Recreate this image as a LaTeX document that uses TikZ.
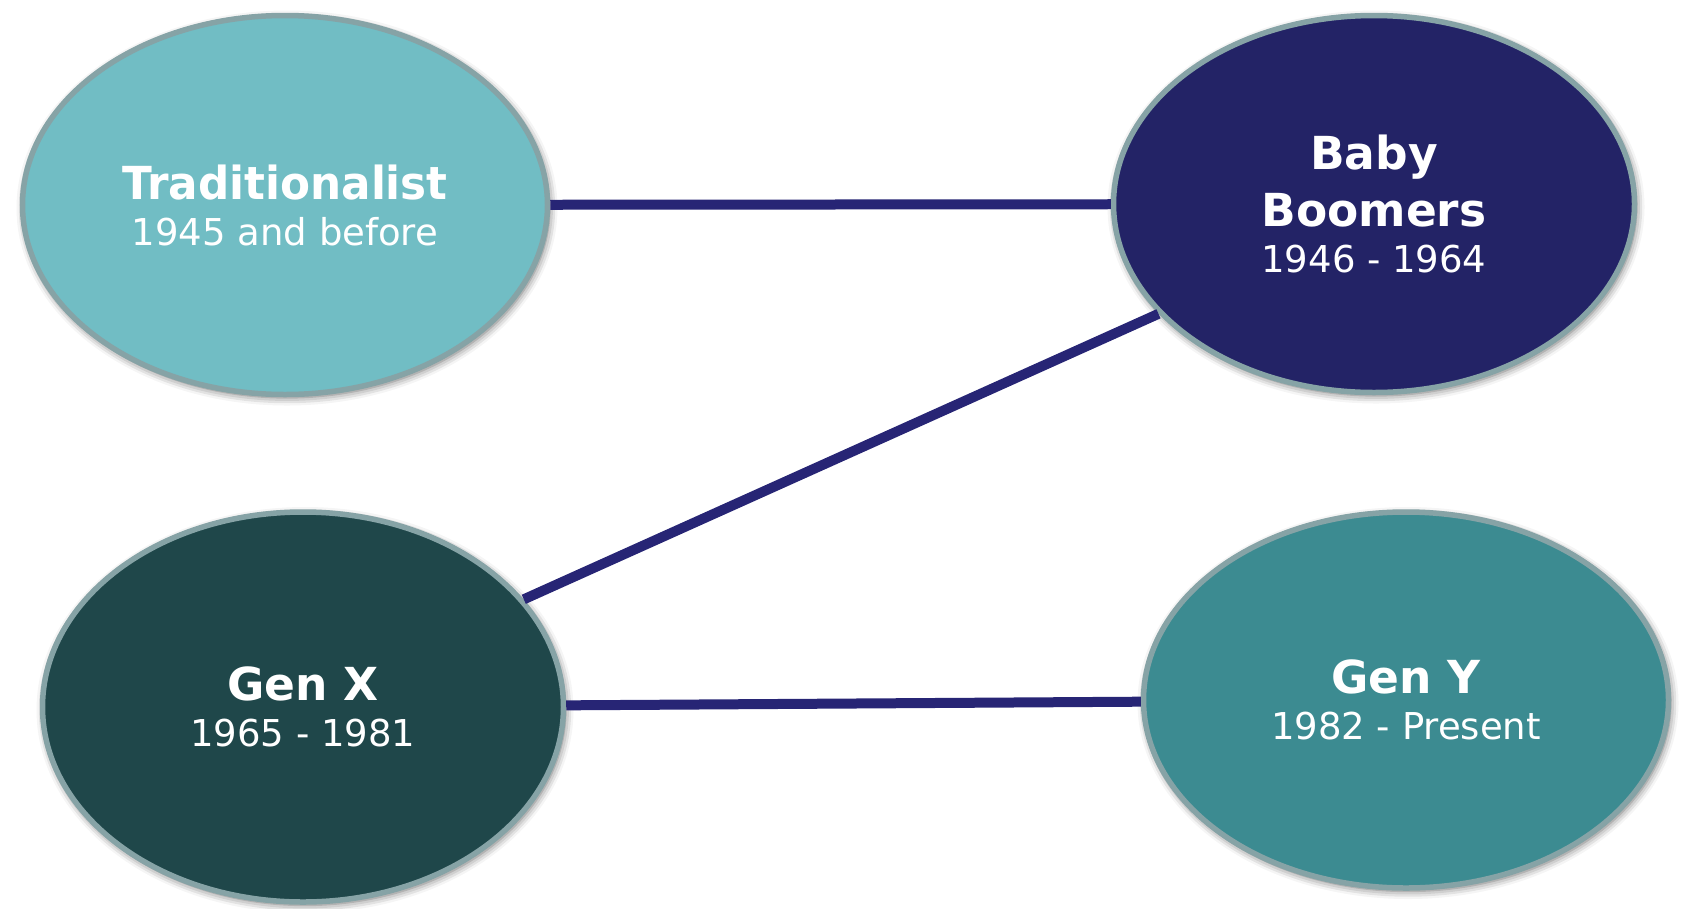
\documentclass[tikz,border=0pt]{standalone}
\usepackage{fontspec}
\setmainfont{DejaVu Sans}
\usetikzlibrary{shapes.geometric,shadows.blur}
\definecolor{tradfill}{HTML}{71BDC4}
\definecolor{bbfill}{HTML}{232366}
\definecolor{gxfill}{HTML}{1F474A}
\definecolor{gyfill}{HTML}{3C8B91}
\definecolor{rimcol}{HTML}{86A3A6}
\definecolor{linkcol}{HTML}{272575}
\tikzset{
  gen/.style={ellipse, draw=rimcol, line width=5.5pt, inner sep=0pt, text=white,
    align=center, font=\fontsize{37}{46}\selectfont,
    blur shadow={shadow xshift=2pt, shadow yshift=-3pt, shadow blur radius=8pt, shadow opacity=60}},
  link/.style={draw=linkcol, line width=10pt}
}
\newcommand{\gtitle}[1]{{\fontsize{45.5}{46}\selectfont\bfseries #1}}
\begin{document}
\begin{tikzpicture}[x=1pt,y=-1pt]
\useasboundingbox (0,0) rectangle (1683,908);
\node[gen, fill=tradfill, minimum width=525pt, minimum height=379pt] (trad) at (285,205)
  {\gtitle{\scalebox{0.96}[1]{Traditionalist}}\\1945 and before};
\node[gen, fill=bbfill, minimum width=521pt, minimum height=377pt] (bb) at (1374,204)
  {\gtitle{Baby}\\[11pt]\gtitle{Boomers}\\1946 - 1964};
\node[gen, fill=gxfill, minimum width=521pt, minimum height=390pt] (genx) at (303,707)
  {\gtitle{Gen X}\\1965 - 1981};
\node[gen, fill=gyfill, minimum width=525pt, minimum height=376pt] (geny) at (1406,700)
  {\gtitle{Gen Y}\\1982 - Present};
\draw[link] (trad) -- (bb);
\draw[link] (genx.26) -- (bb.207);
\draw[link] (genx) -- (geny);
\end{tikzpicture}
\end{document}
